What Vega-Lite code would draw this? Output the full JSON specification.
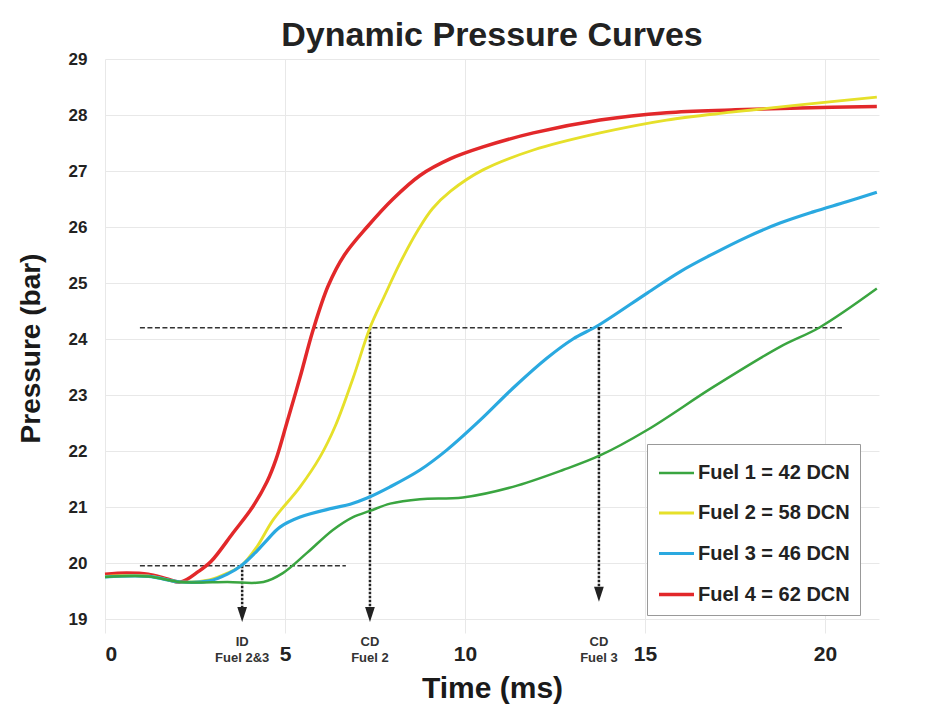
{
  "$schema": "https://vega.github.io/schema/vega-lite/v6.json",
  "autosize": {"type": "none"},
  "padding": {"left": 105, "top": 59, "right": 52, "bottom": 76},
  "width": 774,
  "height": 574,
  "background": "white",
  "title": {"text": "Dynamic Pressure Curves", "fontSize": 34, "fontWeight": "bold", "color": "#222222", "font": "Liberation Sans", "frame": "group", "anchor": "middle", "baseline": "alphabetic", "offset": 12, "dy": 42},
  "datasets": {
    "curves": [
      {"fuel": "Fuel 4 = 62 DCN", "t": 0, "p": 19.8},
      {"fuel": "Fuel 4 = 62 DCN", "t": 0.6, "p": 19.82},
      {"fuel": "Fuel 4 = 62 DCN", "t": 1.2, "p": 19.8},
      {"fuel": "Fuel 4 = 62 DCN", "t": 1.7, "p": 19.72},
      {"fuel": "Fuel 4 = 62 DCN", "t": 2.1, "p": 19.66},
      {"fuel": "Fuel 4 = 62 DCN", "t": 2.6, "p": 19.85},
      {"fuel": "Fuel 4 = 62 DCN", "t": 2.95, "p": 20.03},
      {"fuel": "Fuel 4 = 62 DCN", "t": 3.56, "p": 20.54},
      {"fuel": "Fuel 4 = 62 DCN", "t": 4.1, "p": 21.0},
      {"fuel": "Fuel 4 = 62 DCN", "t": 4.5, "p": 21.45},
      {"fuel": "Fuel 4 = 62 DCN", "t": 4.75, "p": 21.85},
      {"fuel": "Fuel 4 = 62 DCN", "t": 5.05, "p": 22.5},
      {"fuel": "Fuel 4 = 62 DCN", "t": 5.42, "p": 23.32},
      {"fuel": "Fuel 4 = 62 DCN", "t": 5.78, "p": 24.16},
      {"fuel": "Fuel 4 = 62 DCN", "t": 6.2, "p": 24.95},
      {"fuel": "Fuel 4 = 62 DCN", "t": 6.65, "p": 25.5},
      {"fuel": "Fuel 4 = 62 DCN", "t": 7.28, "p": 26.0},
      {"fuel": "Fuel 4 = 62 DCN", "t": 8.0, "p": 26.5},
      {"fuel": "Fuel 4 = 62 DCN", "t": 8.75, "p": 26.92},
      {"fuel": "Fuel 4 = 62 DCN", "t": 9.6, "p": 27.22},
      {"fuel": "Fuel 4 = 62 DCN", "t": 10.5, "p": 27.43},
      {"fuel": "Fuel 4 = 62 DCN", "t": 11.9, "p": 27.68},
      {"fuel": "Fuel 4 = 62 DCN", "t": 13.75, "p": 27.91},
      {"fuel": "Fuel 4 = 62 DCN", "t": 15.6, "p": 28.04},
      {"fuel": "Fuel 4 = 62 DCN", "t": 17.4, "p": 28.09},
      {"fuel": "Fuel 4 = 62 DCN", "t": 19.3, "p": 28.125},
      {"fuel": "Fuel 4 = 62 DCN", "t": 21.44, "p": 28.15},

      {"fuel": "Fuel 2 = 58 DCN", "t": 0, "p": 19.76},
      {"fuel": "Fuel 2 = 58 DCN", "t": 1.2, "p": 19.77},
      {"fuel": "Fuel 2 = 58 DCN", "t": 2.1, "p": 19.66},
      {"fuel": "Fuel 2 = 58 DCN", "t": 2.9, "p": 19.7},
      {"fuel": "Fuel 2 = 58 DCN", "t": 3.4, "p": 19.82},
      {"fuel": "Fuel 2 = 58 DCN", "t": 3.8, "p": 19.96},
      {"fuel": "Fuel 2 = 58 DCN", "t": 4.22, "p": 20.29},
      {"fuel": "Fuel 2 = 58 DCN", "t": 4.67, "p": 20.77},
      {"fuel": "Fuel 2 = 58 DCN", "t": 5.42, "p": 21.36},
      {"fuel": "Fuel 2 = 58 DCN", "t": 5.97, "p": 21.89},
      {"fuel": "Fuel 2 = 58 DCN", "t": 6.4, "p": 22.45},
      {"fuel": "Fuel 2 = 58 DCN", "t": 6.89, "p": 23.3},
      {"fuel": "Fuel 2 = 58 DCN", "t": 7.36, "p": 24.2},
      {"fuel": "Fuel 2 = 58 DCN", "t": 7.75, "p": 24.75},
      {"fuel": "Fuel 2 = 58 DCN", "t": 8.19, "p": 25.35},
      {"fuel": "Fuel 2 = 58 DCN", "t": 8.7, "p": 25.95},
      {"fuel": "Fuel 2 = 58 DCN", "t": 9.1, "p": 26.33},
      {"fuel": "Fuel 2 = 58 DCN", "t": 9.6, "p": 26.64},
      {"fuel": "Fuel 2 = 58 DCN", "t": 10.5, "p": 27.02},
      {"fuel": "Fuel 2 = 58 DCN", "t": 11.9, "p": 27.375},
      {"fuel": "Fuel 2 = 58 DCN", "t": 13.75, "p": 27.68},
      {"fuel": "Fuel 2 = 58 DCN", "t": 15.6, "p": 27.91},
      {"fuel": "Fuel 2 = 58 DCN", "t": 17.4, "p": 28.05},
      {"fuel": "Fuel 2 = 58 DCN", "t": 19.3, "p": 28.18},
      {"fuel": "Fuel 2 = 58 DCN", "t": 21.44, "p": 28.32},

      {"fuel": "Fuel 3 = 46 DCN", "t": 0, "p": 19.75},
      {"fuel": "Fuel 3 = 46 DCN", "t": 1.2, "p": 19.76},
      {"fuel": "Fuel 3 = 46 DCN", "t": 2.1, "p": 19.66},
      {"fuel": "Fuel 3 = 46 DCN", "t": 2.9, "p": 19.68},
      {"fuel": "Fuel 3 = 46 DCN", "t": 3.4, "p": 19.8},
      {"fuel": "Fuel 3 = 46 DCN", "t": 3.8, "p": 19.96},
      {"fuel": "Fuel 3 = 46 DCN", "t": 4.2, "p": 20.2},
      {"fuel": "Fuel 3 = 46 DCN", "t": 4.5, "p": 20.41},
      {"fuel": "Fuel 3 = 46 DCN", "t": 4.86, "p": 20.64},
      {"fuel": "Fuel 3 = 46 DCN", "t": 5.42, "p": 20.82},
      {"fuel": "Fuel 3 = 46 DCN", "t": 6.33, "p": 20.98},
      {"fuel": "Fuel 3 = 46 DCN", "t": 6.81, "p": 21.05},
      {"fuel": "Fuel 3 = 46 DCN", "t": 7.28, "p": 21.16},
      {"fuel": "Fuel 3 = 46 DCN", "t": 7.92, "p": 21.36},
      {"fuel": "Fuel 3 = 46 DCN", "t": 8.75, "p": 21.66},
      {"fuel": "Fuel 3 = 46 DCN", "t": 9.5, "p": 22.02},
      {"fuel": "Fuel 3 = 46 DCN", "t": 10.42, "p": 22.55},
      {"fuel": "Fuel 3 = 46 DCN", "t": 11.33, "p": 23.12},
      {"fuel": "Fuel 3 = 46 DCN", "t": 12.28, "p": 23.66},
      {"fuel": "Fuel 3 = 46 DCN", "t": 13.0, "p": 24.0},
      {"fuel": "Fuel 3 = 46 DCN", "t": 13.72, "p": 24.25},
      {"fuel": "Fuel 3 = 46 DCN", "t": 15.06, "p": 24.82},
      {"fuel": "Fuel 3 = 46 DCN", "t": 15.97, "p": 25.2},
      {"fuel": "Fuel 3 = 46 DCN", "t": 16.89, "p": 25.52},
      {"fuel": "Fuel 3 = 46 DCN", "t": 17.83, "p": 25.82},
      {"fuel": "Fuel 3 = 46 DCN", "t": 18.75, "p": 26.07},
      {"fuel": "Fuel 3 = 46 DCN", "t": 19.67, "p": 26.27},
      {"fuel": "Fuel 3 = 46 DCN", "t": 20.6, "p": 26.45},
      {"fuel": "Fuel 3 = 46 DCN", "t": 21.44, "p": 26.62},

      {"fuel": "Fuel 1 = 42 DCN", "t": 0, "p": 19.75},
      {"fuel": "Fuel 1 = 42 DCN", "t": 1.2, "p": 19.76},
      {"fuel": "Fuel 1 = 42 DCN", "t": 2.1, "p": 19.66},
      {"fuel": "Fuel 1 = 42 DCN", "t": 3.4, "p": 19.66},
      {"fuel": "Fuel 1 = 42 DCN", "t": 4.4, "p": 19.66},
      {"fuel": "Fuel 1 = 42 DCN", "t": 4.94, "p": 19.82},
      {"fuel": "Fuel 1 = 42 DCN", "t": 5.61, "p": 20.18},
      {"fuel": "Fuel 1 = 42 DCN", "t": 6.33, "p": 20.59},
      {"fuel": "Fuel 1 = 42 DCN", "t": 6.89, "p": 20.82},
      {"fuel": "Fuel 1 = 42 DCN", "t": 7.36, "p": 20.93},
      {"fuel": "Fuel 1 = 42 DCN", "t": 7.92, "p": 21.06},
      {"fuel": "Fuel 1 = 42 DCN", "t": 8.75, "p": 21.14},
      {"fuel": "Fuel 1 = 42 DCN", "t": 9.94, "p": 21.17},
      {"fuel": "Fuel 1 = 42 DCN", "t": 11.33, "p": 21.36},
      {"fuel": "Fuel 1 = 42 DCN", "t": 12.72, "p": 21.66},
      {"fuel": "Fuel 1 = 42 DCN", "t": 13.75, "p": 21.92},
      {"fuel": "Fuel 1 = 42 DCN", "t": 15.06, "p": 22.375},
      {"fuel": "Fuel 1 = 42 DCN", "t": 16.89, "p": 23.14},
      {"fuel": "Fuel 1 = 42 DCN", "t": 18.75, "p": 23.86},
      {"fuel": "Fuel 1 = 42 DCN", "t": 19.86, "p": 24.21},
      {"fuel": "Fuel 1 = 42 DCN", "t": 21.44, "p": 24.9}
    ],
    "hlines": [
      {"seg": "a", "t": 0.97, "p": 24.2},
      {"seg": "a", "t": 20.47, "p": 24.2},
      {"seg": "b", "t": 0.97, "p": 19.95},
      {"seg": "b", "t": 6.69, "p": 19.95}
    ],
    "arrows": [
      {"t": 3.81, "p1": 19.95, "p2": 19.08, "label": "ID\nFuel 2&3"},
      {"t": 7.36, "p1": 24.2, "p2": 19.08, "label": "CD\nFuel 2"},
      {"t": 13.72, "p1": 24.2, "p2": 19.44, "label": "CD\nFuel 3"}
    ]
  },
  "layer": [
    {
      "data": {"name": "hlines"},
      "mark": {"type": "line", "color": "#333333", "strokeWidth": 1.5, "strokeDash": [5, 2.5]},
      "encoding": {
        "x": {"field": "t", "type": "quantitative"},
        "y": {"field": "p", "type": "quantitative"},
        "detail": {"field": "seg"}
      }
    },
    {
      "data": {"name": "arrows"},
      "mark": {"type": "rule", "color": "#222222", "strokeWidth": 2.5, "strokeDash": [2.5, 1.5]},
      "encoding": {
        "x": {"field": "t", "type": "quantitative"},
        "y": {"field": "p1", "type": "quantitative"},
        "y2": {"field": "p2"}
      }
    },
    {
      "data": {"name": "arrows"},
      "mark": {"type": "point", "shape": "M-0.65,-1L0.65,-1L0,1Z", "filled": true, "color": "#222222", "size": 225, "opacity": 1},
      "encoding": {
        "x": {"field": "t", "type": "quantitative"},
        "y": {"field": "p2", "type": "quantitative"}
      }
    },
    {
      "data": {"name": "arrows"},
      "mark": {"type": "text", "align": "center", "baseline": "top", "dy": 3, "lineBreak": "\n", "lineHeight": 16, "fontSize": 13, "fontWeight": "bold", "font": "Liberation Sans", "color": "#333333", "clip": false},
      "encoding": {
        "x": {"field": "t", "type": "quantitative"},
        "y": {"datum": 18.75, "type": "quantitative"},
        "text": {"field": "label"}
      }
    },
    {
      "data": {"name": "curves"},
      "mark": {"type": "line", "interpolate": "catmull-rom"},
      "encoding": {
        "x": {"field": "t", "type": "quantitative", "scale": {"domain": [0, 21.5], "nice": false, "zero": false},
          "axis": {"values": [0, 5, 10, 15, 20], "format": "d", "title": "Time (ms)", "labelFontSize": 21, "labelPadding": 10, "titleFontSize": 30, "titleY": 55, "titleBaseline": "middle"}},
        "y": {"field": "p", "type": "quantitative", "scale": {"domain": [18.75, 29], "nice": false, "zero": false},
          "axis": {"values": [19, 20, 21, 22, 23, 24, 25, 26, 27, 28, 29], "format": "d", "title": "Pressure (bar)", "labelFontSize": 17, "labelPadding": 18, "titleFontSize": 28, "titleX": -74, "titleY": 289, "titleBaseline": "middle", "titleAlign": "center"}},
        "color": {"field": "fuel", "type": "nominal",
          "scale": {"domain": ["Fuel 1 = 42 DCN", "Fuel 2 = 58 DCN", "Fuel 3 = 46 DCN", "Fuel 4 = 62 DCN"], "range": ["#3aa540", "#e6e02a", "#2aa9e0", "#e2282a"]},
          "legend": {"title": null, "orient": "none", "legendX": 542, "legendY": 385, "symbolType": "stroke", "symbolSize": 1225, "symbolStrokeWidth": 3, "labelFontSize": 20, "labelFontWeight": "bold", "labelColor": "#222222", "labelOffset": 2, "fillColor": "white", "strokeColor": "#999999", "padding": 10, "rowPadding": 11, "labelLimit": 300}},
        "strokeWidth": {"field": "fuel", "type": "nominal", "scale": {"domain": ["Fuel 1 = 42 DCN", "Fuel 2 = 58 DCN", "Fuel 3 = 46 DCN", "Fuel 4 = 62 DCN"], "range": [2.5, 3.5, 2.5, 2.5]}, "legend": null},
        "order": {"field": "fuel"}
      }
    }
  ],
  "config": {
    "view": {"stroke": null},
    "font": "Liberation Sans",
    "axis": {
      "grid": true,
      "gridColor": "#e8e8e8",
      "gridWidth": 1,
      "domain": false,
      "ticks": false,
      "tickSize": 0,
      "labelFont": "Liberation Sans",
      "labelFontWeight": "bold",
      "labelColor": "#222222",
      "titleFont": "Liberation Sans",
      "titleFontWeight": "bold",
      "titleColor": "#1a1a1a"
    },
    "legend": {"labelFont": "Liberation Sans"}
  }
}
